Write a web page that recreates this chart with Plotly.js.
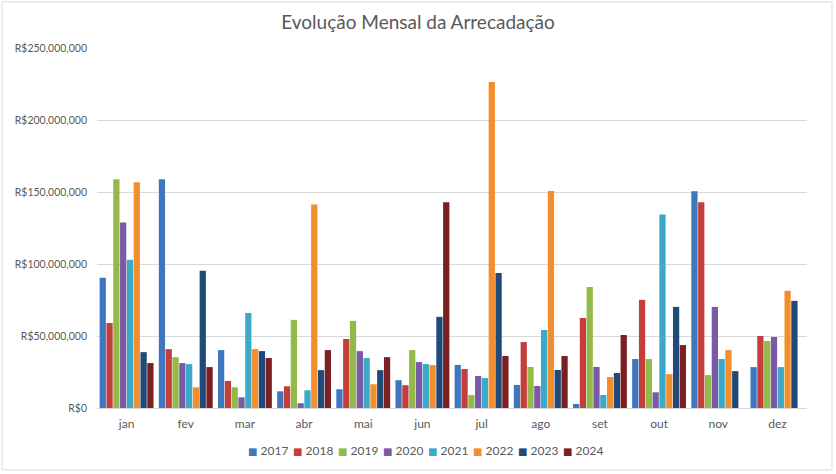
<!DOCTYPE html>
<html>
<head>
<meta charset="utf-8">
<script src="https://cdn.plot.ly/plotly-3.0.1.min.js"></script>
<style>html,body{margin:0;padding:0;background:#fff;}#chart{width:836px;height:474px;}</style>
</head>
<body>
<div id="chart"></div>
<script>
const months = ['jan','fev','mar','abr','mai','jun','jul','ago','set','out','nov','dez'];
const years = ['2017','2018','2019','2020','2021','2022','2023','2024'];
const v2017 = [90.5e6, 158.8e6, 40.2e6, 11.6e6, 13.0e6, 19.3e6, 29.9e6, 16.0e6, 2.8e6, 34.0e6, 150.5e6, 28.4e6];
const v2018 = [59.0e6, 40.9e6, 18.8e6, 15.1e6, 47.9e6, 15.8e6, 27.1e6, 45.8e6, 62.5e6, 75.1e6, 142.8e6, 50.0e6];
const v2019 = [158.8e6, 35.3e6, 14.4e6, 61.2e6, 60.5e6, 40.2e6, 9.0e6, 28.5e6, 84.0e6, 34.0e6, 22.8e6, 46.5e6];
const v2020 = [128.8e6, 31.2e6, 7.4e6, 3.3e6, 39.5e6, 31.9e6, 22.2e6, 15.3e6, 28.5e6, 10.9e6, 70.2e6, 49.3e6];
const v2021 = [103.0e6, 30.5e6, 66.0e6, 12.3e6, 34.7e6, 30.5e6, 20.8e6, 54.2e6, 9.0e6, 134.4e6, 34.0e6, 28.4e6];
const v2022 = [156.7e6, 14.4e6, 40.9e6, 141.4e6, 16.5e6, 29.8e6, 226.4e6, 150.7e6, 21.5e6, 23.5e6, 40.2e6, 81.4e6];
const v2023 = [38.8e6, 95.3e6, 39.5e6, 26.3e6, 26.3e6, 63.3e6, 93.8e6, 26.4e6, 24.3e6, 70.2e6, 25.6e6, 74.4e6];
const v2024 = [31.2e6, 28.4e6, 34.7e6, 40.2e6, 35.3e6, 142.8e6, 36.1e6, 36.1e6, 50.7e6, 43.7e6, null, null];
const yTickVals = [0, 50e6, 100e6, 150e6, 200e6, 250e6];
const yTickText = ['R$0', 'R$50,000,000', 'R$100,000,000', 'R$150,000,000', 'R$200,000,000', 'R$250,000,000'];

const series = [v2017, v2018, v2019, v2020, v2021, v2022, v2023, v2024];
const colors = ['#3F76C0', '#C43F3B', '#93BA48', '#7A5AA6', '#3AAAC8', '#F38E2E', '#1F4A7A', '#7A1F22'];

const data = series.map((vals, i) => ({
  type: 'bar',
  name: years[i],
  x: months,
  y: vals,
  marker: {color: colors[i]},
  hoverinfo: 'skip',
  showlegend: false
}));

// Legend drawn as text entries (compact, Excel-like)
const legendAnnotations = years.map((yr, i) => ({
  xref: 'paper', yref: 'paper',
  x: (246 + i * 45 - 97) / 710, y: -0.119,
  xanchor: 'left', yanchor: 'middle', showarrow: false,
  text: '<span style="color:' + colors[i] + ';font-size:10px;font-family:DejaVu Sans">■</span> ' + yr,
  font: {size: 12, color: '#595959', family: 'Lato, "Open Sans", sans-serif'}
}));

const layout = {
  width: 836, height: 474,
  margin: {l: 97, r: 29, t: 48, b: 66},
  paper_bgcolor: '#ffffff', plot_bgcolor: '#ffffff',
  font: {family: 'Lato, "Open Sans", sans-serif', color: '#595959', size: 11},
  title: {text: 'Evolução Mensal da Arrecadação', font: {size: 19, color: '#595959', family: 'Lato, "Open Sans", sans-serif'}, x: 0.5, xanchor: 'center', y: 0.953, yanchor: 'middle'},
  barmode: 'group', bargap: 0.08, bargroupgap: 0.08,
  xaxis: {
    type: 'category', showgrid: false, showline: true, linecolor: '#D9D9D9', linewidth: 1,
    ticks: '', ticklabelstandoff: 5, tickfont: {size: 12, color: '#595959'}, fixedrange: true
  },
  yaxis: {
    range: [0, 250e6], tickvals: yTickVals, ticktext: yTickText,
    showgrid: true, gridcolor: '#D9D9D9', gridwidth: 1, zeroline: false, showline: false,
    ticks: '', ticklabelstandoff: 9, tickfont: {size: 10.5, color: '#595959'}, fixedrange: true
  },
  showlegend: false,
  annotations: legendAnnotations,
  shapes: [{type: 'rect', xref: 'paper', yref: 'paper', x0: -0.1338, x1: 1.0352, y0: -0.172, y1: 1.128,
    line: {color: '#D9D9D9', width: 1}, fillcolor: 'rgba(0,0,0,0)', layer: 'below'}]
};

Plotly.newPlot('chart', data, layout, {staticPlot: true, displayModeBar: false});
</script>
</body>
</html>
